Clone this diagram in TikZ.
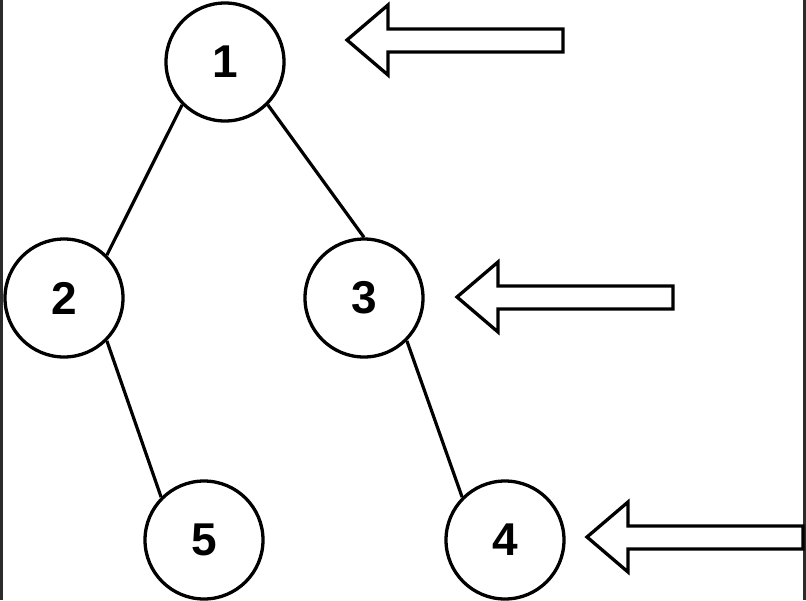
\documentclass[tikz,border=0pt]{standalone}
\usepackage{fontspec}
\setmainfont{Liberation Sans}
\usepackage{tikz}
\usepackage{xcolor}
\definecolor{edge-gray}{HTML}{2B2B2B}
\tikzset{
    tree-node/.style = {draw=black, fill=white, line width=3.3pt, circle, minimum size=118pt, inner sep=0pt, font=\fontsize{46}{46}\selectfont\bfseries},
    tree-edge/.style = {draw=black, line width=3.2pt},
    block-arrow/.pic = {\draw[line width=3.3pt, line join=miter, fill=white] (0,0) -- ++(41,-35) -- ++(0,24) -- ++(175,0) -- ++(0,23) -- ++(-175,0) -- ++(0,23) -- cycle;},
    frame-line/.style = {draw=edge-gray, line width=3pt},
}

\begin{document}
\begin{tikzpicture}[x=1pt, y=-1pt]
\useasboundingbox (0,0) rectangle (806,600);
\draw[frame-line] (1.5,0) -- (1.5,600);
\draw[frame-line] (804.5,0) -- (804.5,600);

% tree
\node[tree-node] (n1) at (225,62) {1};
\node[tree-node] (n2) at (64,298) {2};
\node[tree-node] (n3) at (364,298) {3};
\node[tree-node] (n5) at (204,540) {5};
\node[tree-node] (n4) at (505,540) {4};

\draw[tree-edge] (n1.south west) -- (n2.north east);
\draw[tree-edge] (n1.south east) -- (n3.north);
\draw[tree-edge] (n2.south east) -- (n5.north west);
\draw[tree-edge] (n3.south east) -- (n4.north west);

% level markers
\pic at (347,40) {block-arrow};
\pic at (457,297) {block-arrow};
\pic at (587,537) {block-arrow};
\end{tikzpicture}
\end{document}
